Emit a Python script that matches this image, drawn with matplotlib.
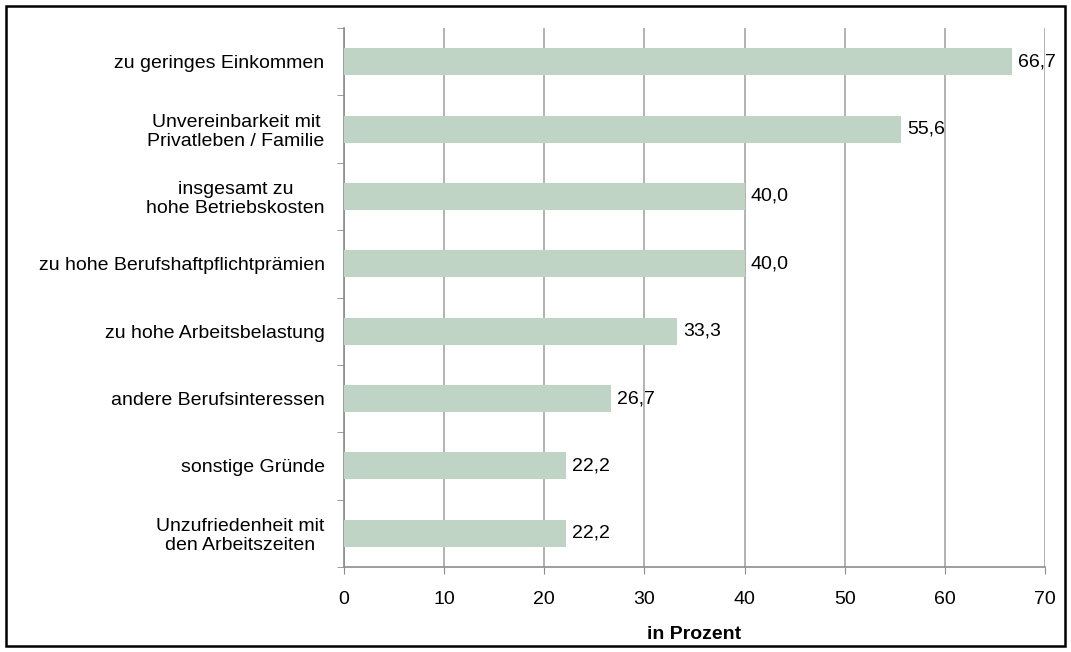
import matplotlib.pyplot as plt
from matplotlib.patches import Rectangle

categories = [
    "zu geringes Einkommen",
    "Unvereinbarkeit mit\nPrivatleben / Familie",
    "insgesamt zu\nhohe Betriebskosten",
    "zu hohe Berufshaftpflichtprämien",
    "zu hohe Arbeitsbelastung",
    "andere Berufsinteressen",
    "sonstige Gründe",
    "Unzufriedenheit mit\nden Arbeitszeiten",
]
values = [66.7, 55.6, 40.0, 40.0, 33.3, 26.7, 22.2, 22.2]
x_ticks = [0, 10, 20, 30, 40, 50, 60, 70]

FS = 14


def main():
    plt.rcParams['font.family'] = ['Liberation Sans', 'DejaVu Sans']
    fig = plt.figure(figsize=(10.71, 6.52), dpi=100)
    ax = fig.add_axes([0.3212, 0.1304, 0.6545, 0.8266])

    n = len(categories)
    ypos = list(range(n))[::-1]
    ax.barh(ypos, values, height=0.4, color='#C0D4C5', zorder=3)
    for y, v in zip(ypos, values):
        ax.text(v + 0.6, y, f"{v:.1f}".replace('.', ','), va='center',
                ha='left', fontsize=FS, zorder=4)

    ax.set_xlim(0, 70)
    ax.set_ylim(-0.5, n - 0.5)
    ax.set_xticks(x_ticks)
    ax.set_xticklabels([str(t) for t in x_ticks], fontsize=FS)
    ax.set_yticks(ypos)
    ax.set_yticklabels(categories, fontsize=FS, multialignment='center',
                       linespacing=1.15)
    ax.set_yticks([i - 0.5 for i in range(n + 1)], minor=True)
    ax.tick_params(axis='y', which='major', length=0, pad=14)
    ax.tick_params(axis='y', which='minor', length=5, color='#8c8c8c',
                   direction='out')
    ax.tick_params(axis='x', length=5, color='#8c8c8c', pad=12)
    ax.grid(axis='x', color='#a6a6a6', linewidth=1.2, zorder=0)
    ax.set_xlabel('in Prozent', fontsize=FS, fontweight='bold', labelpad=13)

    for side in ['top', 'right']:
        ax.spines[side].set_visible(False)
    for side in ['left', 'bottom']:
        ax.spines[side].set_color('#8c8c8c')
        ax.spines[side].set_linewidth(1.2)

    fig.patches.append(Rectangle((0.006, 0.009), 0.988, 0.982,
                                 transform=fig.transFigure, fill=False,
                                 edgecolor='black', linewidth=1.8))
    fig.savefig('out.png', dpi=100)


if __name__ == "__main__":
    main()
